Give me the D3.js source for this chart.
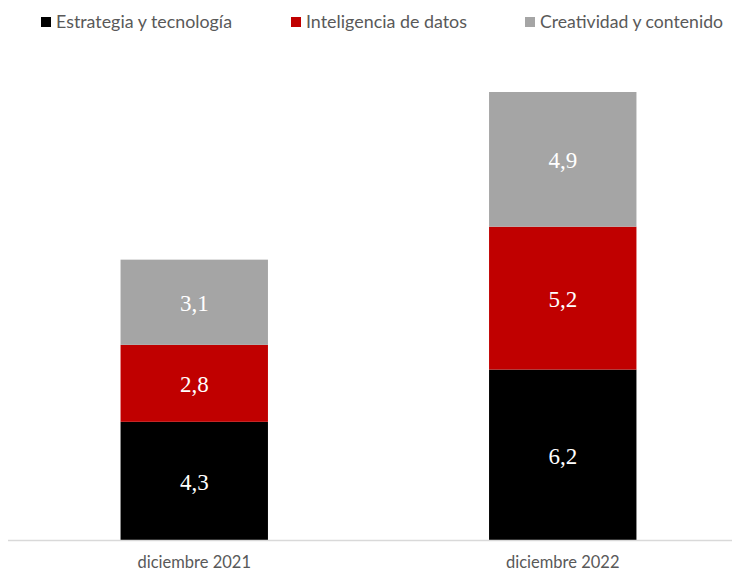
<!DOCTYPE html>
<html>
<head>
<meta charset="utf-8">
<script src="https://cdn.jsdelivr.net/npm/d3@7/dist/d3.min.js"></script>
<style>
  body { margin: 0; background: #fff; }
  svg { display: block; }
</style>
</head>
<body>
<div id="chart"></div>
<script>
const categories = ['diciembre 2021', 'diciembre 2022']
const seriesNames = ['Estrategia y tecnología', 'Inteligencia de datos', 'Creatividad y contenido']
const estrategia = [4.3, 6.2]
const inteligencia = [2.8, 5.2]
const creatividad = [3.1, 4.9]
const colors = ['#000000', '#c00000', '#a5a5a5']

const width = 732
const height = 573
const svg = d3.select('#chart').append('svg').attr('width', width).attr('height', height)

const rows = categories.map((c, i) => ({
  cat: c,
  [seriesNames[0]]: estrategia[i],
  [seriesNames[1]]: inteligencia[i],
  [seriesNames[2]]: creatividad[i]
}))
const stacked = d3.stack().keys(seriesNames)(rows)

const x = d3.scaleBand().domain(categories).range([10, 747]).paddingInner(0.6).paddingOuter(0.3)
const y = d3.scaleLinear().domain([0, 16.3]).range([540, 92])

// barras apiladas
const layers = svg.selectAll('g.layer').data(stacked).join('g')
  .attr('class', 'layer')
  .attr('fill', (d, i) => colors[i])

layers.selectAll('rect').data(d => d).join('rect')
  .attr('x', d => x(d.data.cat))
  .attr('width', x.bandwidth())
  .attr('y', d => y(d[1]))
  .attr('height', d => y(d[0]) - y(d[1]))

// etiquetas de valor
layers.selectAll('text').data(d => d).join('text')
  .attr('x', d => x(d.data.cat) + x.bandwidth() / 2)
  .attr('y', d => (y(d[0]) + y(d[1])) / 2)
  .attr('dy', '0.38em')
  .attr('text-anchor', 'middle')
  .attr('fill', '#ffffff')
  .attr('font-family', 'Liberation Serif, DejaVu Serif, serif')
  .attr('font-size', 23)
  .text(d => d3.format('.1f')(d[1] - d[0]).replace('.', ','))

// eje x
svg.append('line')
  .attr('x1', 8).attr('x2', 732)
  .attr('y1', 540.5).attr('y2', 540.5)
  .attr('stroke', '#d9d9d9').attr('stroke-width', 1.5)

const xAxis = svg.append('g').attr('transform', 'translate(0,540)')
  .call(d3.axisBottom(x).tickSize(0).tickPadding(28))
xAxis.select('.domain').remove()
xAxis.selectAll('text')
  .attr('dy', 0)
  .attr('fill', '#595959')
  .attr('font-family', 'Lato, sans-serif')
  .attr('font-size', 16.5)

// leyenda
const legendX = [41, 291, 525]
const legendW = [176, 161, 183]
const legend = svg.append('g').selectAll('g').data(seriesNames).join('g')
  .attr('transform', (d, i) => `translate(${legendX[i]},0)`)
legend.append('rect')
  .attr('x', 0).attr('y', 17)
  .attr('width', 10).attr('height', 10)
  .attr('fill', (d, i) => colors[i])
legend.append('text')
  .attr('x', 15).attr('y', 28)
  .attr('fill', '#595959')
  .attr('font-family', 'Lato, sans-serif')
  .attr('font-size', 18)
  .attr('textLength', (d, i) => legendW[i])
  .attr('lengthAdjust', 'spacingAndGlyphs')
  .text(d => d)
</script>
</body>
</html>
